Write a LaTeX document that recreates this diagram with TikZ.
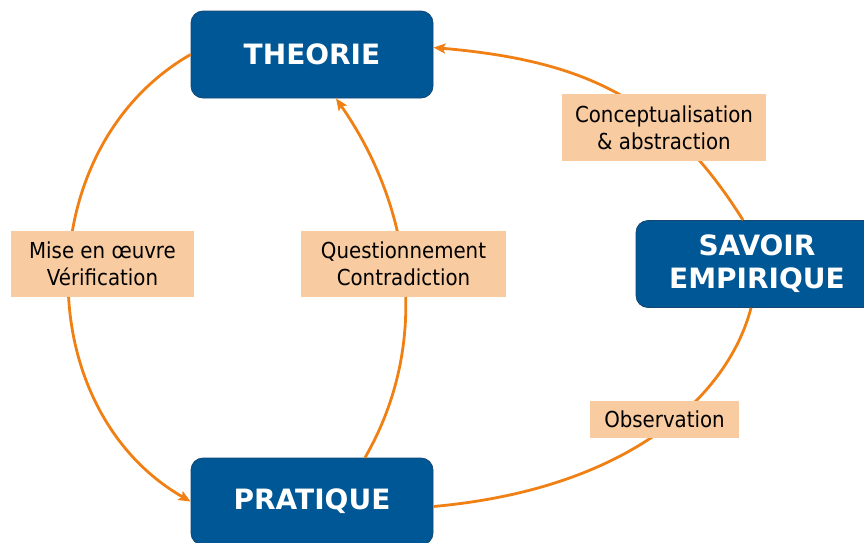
\documentclass[tikz,border=0pt]{standalone}
\usepackage{fontspec}
\setmainfont{DejaVu Sans}
\newfontfamily\condfont{DejaVu Sans Condensed}
\usetikzlibrary{arrows.meta}
\definecolor{boxblue}{RGB}{0,87,150}
\definecolor{boxedge}{RGB}{20,70,115}
\definecolor{peach}{RGB}{248,203,160}
\definecolor{lineor}{RGB}{240,128,20}
\tikzset{
 bigbox/.style={draw=boxedge, line width=0.8pt, fill=boxblue, rounded corners=12pt, minimum width=242pt, minimum height=87pt, text=white, font=\bfseries\fontsize{28}{33}\selectfont, align=center, inner sep=0pt},
 lab/.style={fill=peach, inner sep=0pt, text=black, font=\condfont\fontsize{22}{27}\selectfont, align=center},
 conn/.style={draw=lineor, line width=2.8pt},
 arr/.style={conn, -{Stealth[length=12pt,width=10pt,inset=2.5pt]}}
}
\begin{document}
\begin{tikzpicture}[x=1pt,y=-1pt]
\useasboundingbox (0,0) rectangle (864,542);
\node[bigbox] (T) at (312,54.5) {THEORIE};
\node[bigbox] (S) at (757,264) {SAVOIR\\EMPIRIQUE};
\node[bigbox] (P) at (312,501.5) {PRATIQUE};
% connectors
\draw[arr] (T.west) .. controls +(-162,93) and +(-162,-93) .. (P.west);
\draw[arr] ([xshift=53pt]P.north) .. controls +(66.5,-115) and +(76,109) .. ([xshift=24pt]T.south);
\draw[arr] ([xshift=-14pt]S.north) .. controls +(-77,-123) and +(149,13) .. ([yshift=7pt]T.east);
\draw[conn] ([yshift=-5pt]P.east) .. controls +(200,-18) and +(-22,85) .. ([xshift=-6pt]S.south);
% labels
\node[lab, minimum width=183pt, minimum height=66pt] (L1) at (102.5,264) {Mise en œuvre\\Vérification};
\node[lab, minimum width=205pt, minimum height=66pt] (L2) at (403.5,264) {Questionnement\\Contradiction};
\node[lab, minimum width=204pt, minimum height=67pt] (L3) at (664,127.5) {Conceptualisation\\\& abstraction};
\node[lab, minimum width=149pt, minimum height=37pt] (L4) at (664.5,419.5) {Observation};
\end{tikzpicture}
\end{document}
